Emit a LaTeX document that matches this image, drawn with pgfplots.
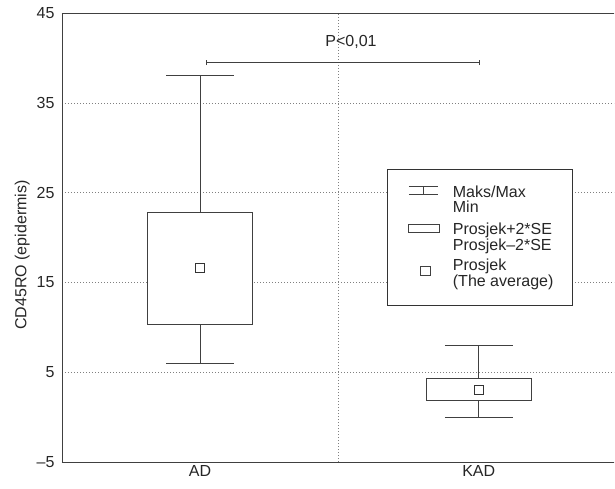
\documentclass[border=0pt]{standalone}
\usepackage{fontspec}
\setmainfont{Liberation Sans}
\usepackage{pgfplots}
\pgfplotsset{compat=1.18}
\begin{document}
\begin{tikzpicture}
\begin{axis}[
    scale only axis, width=552pt, height=449pt,
    xmin=0, xmax=2, ymin=-5, ymax=45,
    axis x line*=box, axis y line*=left,
    axis line style={black!75, line width=0.9pt},
    xtick={0.5,1.51}, xticklabels={AD,KAD},
    ytick={-5,5,15,25,35,45}, yticklabels={–5,5,15,25,35,45},
    major tick length=0pt,
    ymajorgrids,
    extra x ticks={1}, extra x tick labels={},
    extra x tick style={grid=major},
    grid style={gray, line width=0.6pt, dash pattern=on 0.7pt off 2.3pt},
    tick label style={font=\fontsize{16}{19}\selectfont, black!85},
    yticklabel style={xshift=-4pt},
    ylabel={CD45RO (epidermis)},
    ylabel style={font=\fontsize{16}{19}\selectfont, black!85,
        at={(axis description cs:-0.072,0.461)}, anchor=center},
    whisk/.style={black!75, line width=0.9pt, no markers},
]
% AD
\addplot[whisk] coordinates {(0.5,22.8) (0.5,38.0)};
\addplot[whisk] coordinates {(0.377,38.0) (0.623,38.0)};
\addplot[whisk] coordinates {(0.5,10.3) (0.5,6.0)};
\addplot[whisk] coordinates {(0.377,6.0) (0.623,6.0)};
\addplot[whisk, fill=white] coordinates {(0.31,10.3) (0.69,10.3) (0.69,22.8) (0.31,22.8) (0.31,10.3)};
% KAD
\addplot[whisk] coordinates {(1.51,4.3) (1.51,8.0)};
\addplot[whisk] coordinates {(1.387,8.0) (1.633,8.0)};
\addplot[whisk] coordinates {(1.51,1.8) (1.51,0.0)};
\addplot[whisk] coordinates {(1.387,0.0) (1.633,0.0)};
\addplot[whisk, fill=white] coordinates {(1.32,1.8) (1.70,1.8) (1.70,4.3) (1.32,4.3) (1.32,1.8)};
% averages
\addplot[only marks, mark=square*, mark size=4.5pt, mark options={fill=white, draw=black!80, line width=0.9pt}]
    coordinates {(0.5,16.6) (1.51,3.0)};

% significance bracket
\draw[black!75, line width=0.9pt] (axis cs:0.522,39.5) -- (axis cs:1.511,39.5);
\draw[black!75, line width=0.9pt] (axis cs:0.522,39.2) -- (axis cs:0.522,39.8);
\draw[black!75, line width=0.9pt] (axis cs:1.511,39.2) -- (axis cs:1.511,39.8);
\node[font=\fontsize{16}{19}\selectfont, black!85] at (axis cs:1.047,41.8) {P<0,01};

% legend
\draw[black!80, line width=0.9pt, fill=white] (axis cs:1.179,12.48) rectangle (axis cs:1.850,27.6);
\begin{scope}[black!75, line width=0.9pt]
\draw (axis cs:1.257,25.66) -- (axis cs:1.362,25.66);
\draw (axis cs:1.257,24.84) -- (axis cs:1.362,24.84);
\draw (axis cs:1.310,25.66) -- (axis cs:1.310,24.84);
\draw (axis cs:1.257,20.53) rectangle (axis cs:1.367,21.50);
\draw (axis cs:1.2996,15.82) rectangle (axis cs:1.3333,16.83);
\end{scope}
\begin{scope}[every node/.style={font=\fontsize{16}{19}\selectfont, black!85, anchor=base west, inner sep=0pt}]
\node at (axis cs:1.4156,24.51) {Maks/Max};
\node at (axis cs:1.4156,22.73) {Min};
\node at (axis cs:1.4156,20.39) {Prosjek+2*SE};
\node at (axis cs:1.4156,18.55) {Prosjek–2*SE};
\node at (axis cs:1.4156,16.27) {Prosjek};
\node at (axis cs:1.4156,14.49) {(The average)};
\end{scope}
\end{axis}
\pgfresetboundingbox
\path[use as bounding box] (current axis.south west) ++(-62pt,-26pt) rectangle ++(615pt,488pt);
\end{tikzpicture}
\end{document}
